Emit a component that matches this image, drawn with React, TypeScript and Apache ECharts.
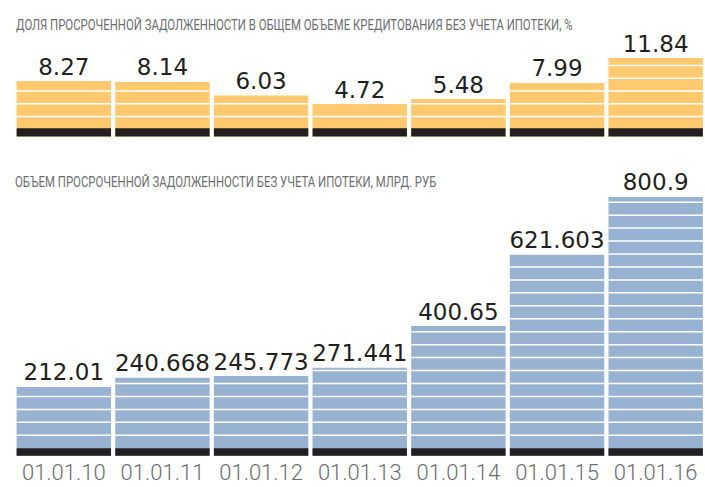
import React, { useEffect, useRef } from 'react';
import * as echarts from 'echarts';

const categories = ['01.01.10', '01.01.11', '01.01.12', '01.01.13', '01.01.14', '01.01.15', '01.01.16'];
const shareValues = [8.27, 8.14, 6.03, 4.72, 5.48, 7.99, 11.84];
const volumeValues = [212.01, 240.668, 245.773, 271.441, 400.65, 621.603, 800.9];
const shareTitle = 'ДОЛЯ ПРОСРОЧЕННОЙ ЗАДОЛЖЕННОСТИ В ОБЩЕМ ОБЪЕМЕ КРЕДИТОВАНИЯ БЕЗ УЧЕТА ИПОТЕКИ, %';
const volumeTitle = 'ОБЪЕМ ПРОСРОЧЕННОЙ ЗАДОЛЖЕННОСТИ БЕЗ УЧЕТА ИПОТЕКИ, МЛРД. РУБ';

const TITLE_FONT_SIZE = 15;
const TITLE_FONT_FAMILY = 'Roboto';
const TITLE_COLOR = '#6d6e71';
const DARK = '#231f20';

function measure(text: string, font: string): number {
  const ctx = document.createElement('canvas').getContext('2d');
  if (!ctx) return 1;
  ctx.font = font;
  return ctx.measureText(text).width;
}

function makeRenderer(values: number[], color: string, bandAbove: number, bandBelow: number, firstOffset: number, period: number) {
  return (params: any, api: any) => {
    const i = api.value(0);
    const v = api.value(1);
    const topPt = api.coord([i, v]);
    const zeroPt = api.coord([i, 0]);
    const band = api.size([1, 0])[0];
    const w = band * 0.957;
    const x = topPt[0] - w / 2;
    const top = topPt[1];
    const zero = zeroPt[1];
    const bandTop = zero - bandAbove;
    const children: any[] = [];
    children.push({
      type: 'rect',
      shape: { x, y: top, width: w, height: zero + bandBelow - top },
      style: { fill: color },
    });
    for (let y = bandTop - firstOffset; y > top + 2; y -= period) {
      children.push({
        type: 'rect',
        shape: { x, y: y - 0.75, width: w, height: 1.5 },
        style: { fill: '#ffffff' },
      });
    }
    children.push({
      type: 'rect',
      shape: { x, y: bandTop, width: w, height: bandAbove + bandBelow },
      style: { fill: DARK },
    });
    children.push({
      type: 'text',
      style: {
        text: String(values[params.dataIndex]),
        x: topPt[0],
        y: top - 3,
        align: 'center',
        verticalAlign: 'bottom',
        fontSize: 23,
        fontFamily: 'DejaVu Sans',
        fill: DARK,
      },
    });
    return { type: 'group', children };
  };
}

export default function App() {
  const ref = useRef<HTMLDivElement>(null);
  useEffect(() => {
    if (!ref.current) return;
    const chart = echarts.init(ref.current, null, { renderer: 'svg' });
    const tFont = `${TITLE_FONT_SIZE}px ${TITLE_FONT_FAMILY}`;
    const s1 = 557 / measure(shareTitle, tFont);
    const s2 = 422 / measure(volumeTitle, tFont);
    const option: any = {
      animation: false,
      backgroundColor: '#ffffff',
      graphic: [
        {
          type: 'text', x: 16, y: 17, scaleX: s1,
          style: { text: shareTitle, fontSize: TITLE_FONT_SIZE, fontFamily: TITLE_FONT_FAMILY, fill: TITLE_COLOR, verticalAlign: 'top' },
        },
        {
          type: 'text', x: 15, y: 174, scaleX: s2,
          style: { text: volumeTitle, fontSize: TITLE_FONT_SIZE, fontFamily: TITLE_FONT_FAMILY, fill: TITLE_COLOR, verticalAlign: 'top' },
        },
      ],
      grid: [
        { left: 14.5, right: -4.5, top: 57, height: 77.5 },
        { left: 14.5, right: -4.5, top: 181.1, height: 274.2 },
      ],
      xAxis: [
        { type: 'category', data: categories, gridIndex: 0, show: false },
        {
          type: 'category', data: categories, gridIndex: 1,
          axisLine: { show: false }, axisTick: { show: false }, splitLine: { show: false },
          axisLabel: { interval: 0, color: '#6d6e71', fontSize: 22, fontFamily: 'Roboto', fontWeight: 300, margin: 6 },
        },
      ],
      yAxis: [
        { type: 'value', gridIndex: 0, min: 0, max: 12, show: false },
        { type: 'value', gridIndex: 1, min: 0, max: 850, show: false },
      ],
      series: [
        {
          type: 'custom', xAxisIndex: 0, yAxisIndex: 0, clip: false,
          data: shareValues.map((v, i) => [i, v]),
          encode: { x: 0, y: 1 },
          renderItem: makeRenderer(shareValues, '#fec96f', 6.2, 2, 11.9, 12.75),
        },
        {
          type: 'custom', xAxisIndex: 1, yAxisIndex: 1, clip: false,
          data: volumeValues.map((v, i) => [i, v]),
          encode: { x: 0, y: 1 },
          renderItem: makeRenderer(volumeValues, '#98b2d2', 7, 0.5, 13, 12.95),
        },
      ],
    };
    chart.setOption(option);
    return () => chart.dispose();
  }, []);
  return <div ref={ref} style={{ position: 'absolute', left: 0, top: 0, width: 705, height: 487 }} />;
}
